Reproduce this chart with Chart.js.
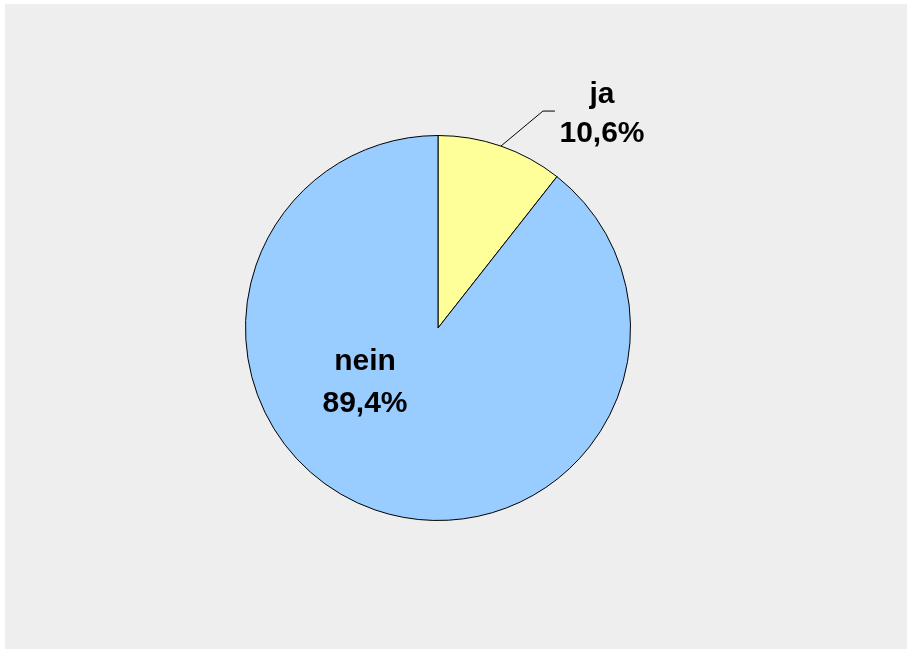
<!DOCTYPE html>
<html>
<head>
<meta charset="utf-8">
<script src="https://cdn.jsdelivr.net/npm/chart.js@4/dist/chart.umd.min.js"></script>
<style>
  html, body { margin: 0; padding: 0; background: #ffffff; width: 909px; height: 651px; overflow: hidden; }
  #bg { position: absolute; left: 5px; top: 4px; width: 902px; height: 645px; background: #eeeeee; }
  #wrap { position: absolute; left: 0; top: 0; width: 909px; height: 651px; }
</style>
</head>
<body>
<div id="bg"></div>
<div id="wrap"><canvas id="c" width="909" height="651"></canvas></div>
<script>
const categories = ["ja", "nein"];
const values = [10.6, 89.4];
const valueLabels = ["10,6%", "89,4%"];
const colors = ["#FFFF99", "#99CCFF"];

const labelPlugin = {
  id: 'sliceLabels',
  afterDatasetsDraw(chart) {
    const ctx = chart.ctx;
    const meta = chart.getDatasetMeta(0);
    ctx.save();
    ctx.font = 'bold 30px "Liberation Sans", Arial, sans-serif';
    ctx.fillStyle = '#000';
    ctx.textAlign = 'center';
    ctx.textBaseline = 'alphabetic';
    meta.data.forEach((arc, i) => {
      const p = arc.getProps(['x', 'y', 'startAngle', 'endAngle', 'outerRadius'], true);
      const mid = (p.startAngle + p.endAngle) / 2;
      const r = p.outerRadius;
      if (i === 0) {
        // outside label with leader line
        const ex = p.x + Math.cos(mid) * r;
        const ey = p.y + Math.sin(mid) * r;
        const kx = ex + 42, ky = ey - 35;
        ctx.strokeStyle = '#000';
        ctx.lineWidth = 1;
        ctx.beginPath();
        ctx.moveTo(ex, ey);
        ctx.lineTo(kx, ky);
        ctx.lineTo(kx + 12, ky);
        ctx.stroke();
        const tx = p.x + 164;
        ctx.fillText(categories[i], tx, p.y - 225);
        ctx.fillText(valueLabels[i], tx, p.y - 186);
      } else {
        const tx = p.x - 73;
        ctx.fillText(categories[i], tx, p.y + 42);
        ctx.fillText(valueLabels[i], tx, p.y + 84);
      }
    });
    ctx.restore();
  }
};

new Chart(document.getElementById('c'), {
  type: 'pie',
  data: {
    labels: categories,
    datasets: [{
      data: values,
      backgroundColor: colors,
      borderColor: '#000000',
      borderWidth: 1,
      borderAlign: 'center'
    }]
  },
  options: {
    responsive: false,
    animation: false,
    layout: { padding: { top: 135, bottom: 130, left: 0, right: 33 } },
    plugins: {
      legend: { display: false },
      tooltip: { enabled: false },
      title: { display: false }
    }
  },
  plugins: [labelPlugin]
});
</script>
</body>
</html>
